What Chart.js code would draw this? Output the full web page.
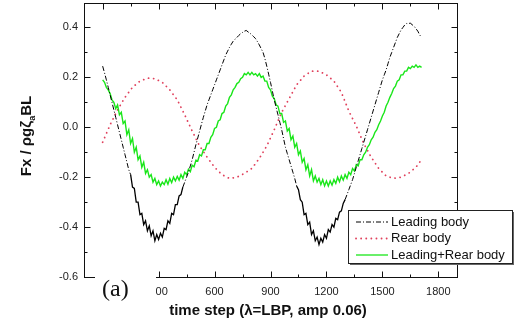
<!DOCTYPE html>
<html>
<head>
<meta charset="utf-8">
<script src="https://cdn.jsdelivr.net/npm/chart.js@4/dist/chart.umd.min.js"></script>
<style>
  body { margin: 0; background: #fff; }
  canvas { display: block; }
</style>
</head>
<body>
<canvas id="grafico" width="518" height="326"></canvas>
<script>
// time steps shared by the leading body and the sum
const steps = [
  0, 10, 20, 30, 40, 50, 60, 70, 80, 90, 100, 110, 120, 130, 140, 150, 160, 170, 180, 190,
  200, 210, 220, 230, 240, 250, 260, 270, 280, 290, 300, 310, 320, 330, 340, 350, 360, 370, 380, 390,
  400, 410, 420, 430, 440, 450, 460, 470, 480, 490, 500, 510, 520, 530, 540, 550, 560, 570, 580, 590,
  600, 610, 620, 630, 640, 650, 660, 670, 680, 690, 700, 710, 720, 730, 740, 750, 760, 770, 780, 790,
  800, 810, 820, 830, 840, 850, 860, 870, 880, 890, 900, 910, 920, 930, 940, 950, 960, 970, 980, 990,
  1000, 1010, 1020, 1030, 1040, 1050, 1060, 1070, 1080, 1090, 1100, 1110, 1120, 1130, 1140, 1150, 1160, 1170, 1180, 1190,
  1200, 1210, 1220, 1230, 1240, 1250, 1260, 1270, 1280, 1290, 1300, 1310, 1320, 1330, 1340, 1350, 1360, 1370, 1380, 1390,
  1400, 1410, 1420, 1430, 1440, 1450, 1460, 1470, 1480, 1490, 1500, 1510, 1520, 1530, 1540, 1550, 1560, 1570, 1580, 1590,
  1600, 1610, 1620, 1630, 1640, 1650, 1660, 1670, 1680, 1690, 1700, 1710];

const leadingBody = [
  0.245, 0.218, 0.19, 0.16, 0.13, 0.10, 0.07, 0.04, 0.01, -0.02, -0.05, -0.08, -0.11, -0.14, -0.17, -0.19, -0.24, -0.245, -0.30, -0.30,
  -0.35, -0.345, -0.39, -0.375, -0.415, -0.395, -0.435, -0.415, -0.455, -0.43, -0.45, -0.425, -0.44, -0.405, -0.41, -0.375, -0.385, -0.345, -0.35, -0.31,
  -0.31, -0.275, -0.27, -0.24, -0.22, -0.20, -0.18, -0.155, -0.13, -0.10, -0.07, -0.043, -0.015, 0.013, 0.04, 0.065, 0.09, 0.11, 0.13, 0.15,
  0.17, 0.19, 0.21, 0.23, 0.25, 0.27, 0.29, 0.305, 0.32, 0.333, 0.345, 0.353, 0.36, 0.368, 0.375, 0.38, 0.385, 0.388, 0.382, 0.377,
  0.37, 0.363, 0.355, 0.343, 0.33, 0.315, 0.30, 0.275, 0.245, 0.213, 0.18, 0.145, 0.11, 0.08, 0.05, 0.02, -0.01, -0.045, -0.08, -0.105,
  -0.13, -0.155, -0.18, -0.205, -0.235, -0.25, -0.29, -0.30, -0.35, -0.345, -0.39, -0.38, -0.43, -0.415, -0.455, -0.44, -0.47, -0.445, -0.46, -0.43,
  -0.445, -0.41, -0.42, -0.39, -0.40, -0.365, -0.37, -0.34, -0.335, -0.305, -0.29, -0.27, -0.25, -0.23, -0.21, -0.185, -0.16, -0.135, -0.11, -0.085,
  -0.06, -0.035, -0.01, 0.015, 0.04, 0.065, 0.09, 0.115, 0.14, 0.165, 0.19, 0.21, 0.23, 0.255, 0.28, 0.30, 0.32, 0.34, 0.36, 0.375,
  0.39, 0.40, 0.41, 0.416, 0.415, 0.418, 0.41, 0.405, 0.395, 0.385, 0.37, 0.36];

const leadingRear = [
  0.19, 0.18, 0.16, 0.15, 0.135, 0.11, 0.10, 0.075, 0.09, 0.05, 0.06, 0.015, 0.025, -0.03, -0.01, -0.065, -0.045, -0.10, -0.08, -0.13,
  -0.115, -0.16, -0.14, -0.185, -0.17, -0.20, -0.19, -0.22, -0.205, -0.23, -0.215, -0.235, -0.22, -0.23, -0.21, -0.228, -0.205, -0.222, -0.20, -0.215,
  -0.197, -0.212, -0.19, -0.205, -0.18, -0.19, -0.168, -0.178, -0.152, -0.158, -0.132, -0.135, -0.11, -0.115, -0.09, -0.09, -0.065, -0.065, -0.04, -0.03,
  -0.005, 0.0, 0.025, 0.03, 0.055, 0.06, 0.085, 0.095, 0.12, 0.13, 0.15, 0.16, 0.175, 0.18, 0.195, 0.20, 0.215, 0.21, 0.22, 0.21,
  0.22, 0.21, 0.215, 0.205, 0.215, 0.20, 0.205, 0.185, 0.185, 0.16, 0.15, 0.125, 0.115, 0.09, 0.085, 0.055, 0.055, 0.02, 0.025, -0.015,
  -0.005, -0.05, -0.035, -0.08, -0.065, -0.11, -0.095, -0.14, -0.125, -0.17, -0.15, -0.195, -0.17, -0.215, -0.195, -0.22, -0.205, -0.23, -0.21, -0.235,
  -0.215, -0.235, -0.215, -0.232, -0.21, -0.225, -0.20, -0.218, -0.195, -0.212, -0.19, -0.205, -0.18, -0.19, -0.165, -0.175, -0.15, -0.155, -0.13, -0.13,
  -0.11, -0.10, -0.08, -0.07, -0.05, -0.04, -0.02, -0.01, 0.01, 0.025, 0.045, 0.06, 0.085, 0.10, 0.12, 0.135, 0.155, 0.165, 0.185, 0.19,
  0.21, 0.21, 0.225, 0.225, 0.24, 0.235, 0.245, 0.24, 0.25, 0.24, 0.245, 0.24];

// rear body is smooth, coarser steps are enough
const rearSteps = [0, 40, 80, 120, 160, 200, 240, 280, 320, 360, 400, 440, 480, 520, 560, 600, 640, 680, 720, 760,
  800, 840, 880, 920, 960, 1000, 1040, 1080, 1120, 1160, 1200, 1240, 1280, 1320, 1360, 1400, 1440, 1480, 1520, 1560,
  1600, 1640, 1680, 1710];
const rearBody = [-0.06, 0.01, 0.07, 0.12, 0.16, 0.185, 0.197, 0.195, 0.18, 0.15, 0.11, 0.05, -0.015, -0.075, -0.12, -0.16, -0.19, -0.205, -0.20, -0.185,
  -0.165, -0.125, -0.075, -0.01, 0.06, 0.115, 0.17, 0.205, 0.225, 0.225, 0.21, 0.185, 0.14, 0.065, 0.005, -0.065, -0.12, -0.165, -0.195, -0.205,
  -0.20, -0.185, -0.16, -0.13];

const xTicks = [0, 300, 600, 900, 1200, 1500, 1800];
const xMinor = [150, 450, 750, 1050, 1350, 1650];
const yTicks = [-0.6, -0.4, -0.2, 0, 0.2, 0.4];
const yMinor = [-0.5, -0.3, -0.1, 0.1, 0.3];

const seriesNames = ['Leading body', 'Rear body', 'Leading+Rear body'];

// the leading body trace is so noisy in the troughs that the dashes close up
const troughs = [[150, 420], [1040, 1290]];

function pares(xs, ys) {
  return xs.map((x, i) => ({ x: x, y: ys[i] }));
}

function noVale(x) {
  return troughs.some(t => x >= t[0] && x <= t[1]);
}

// frame with inward ticks, legend box, titles and the (a) tag
const extras = {
  id: 'extras',
  afterDraw(chart) {
    const ctx = chart.ctx;
    const a = chart.chartArea;
    const sx = chart.scales.x;
    const sy = chart.scales.y;
    const L = Math.round(a.left) + 0.5, R = Math.round(a.right) + 0.5;
    const T = Math.round(a.top) + 0.5, B = Math.round(a.bottom) + 0.5;
    ctx.save();
    ctx.strokeStyle = '#111';
    ctx.lineWidth = 1;
    ctx.strokeRect(L, T, R - L, B - T);

    ctx.beginPath();
    xTicks.forEach(v => {
      const p = Math.round(sx.getPixelForValue(v)) + 0.5;
      ctx.moveTo(p, B); ctx.lineTo(p, B - 6);
      ctx.moveTo(p, T); ctx.lineTo(p, T + 6);
    });
    xMinor.forEach(v => {
      const p = Math.round(sx.getPixelForValue(v)) + 0.5;
      ctx.moveTo(p, B); ctx.lineTo(p, B - 3);
      ctx.moveTo(p, T); ctx.lineTo(p, T + 3);
    });
    yTicks.forEach(v => {
      const p = Math.round(sy.getPixelForValue(v)) + 0.5;
      ctx.moveTo(L, p); ctx.lineTo(L + 6, p);
      ctx.moveTo(R, p); ctx.lineTo(R - 6, p);
    });
    yMinor.forEach(v => {
      const p = Math.round(sy.getPixelForValue(v)) + 0.5;
      ctx.moveTo(L, p); ctx.lineTo(L + 3, p);
      ctx.moveTo(R, p); ctx.lineTo(R - 3, p);
    });
    ctx.stroke();

    // legend
    const lx = 348, ly = 210, lw = 164, lh = 53;
    ctx.fillStyle = '#666';
    ctx.fillRect(lx + 2, ly + 2, lw, lh);
    ctx.fillStyle = '#fff';
    ctx.fillRect(lx, ly, lw, lh);
    ctx.strokeStyle = '#222';
    ctx.strokeRect(lx + 0.5, ly + 0.5, lw, lh);

    const linhas = [
      { cor: '#000', dash: [5, 2, 1, 2], w: 1, cap: 'butt' },
      { cor: '#e0405c', dash: [0.1, 5], w: 1.8, cap: 'round' },
      { cor: '#19e619', dash: [], w: 1.3, cap: 'butt' }
    ];
    ctx.font = '13px "Liberation Sans", Arial, sans-serif';
    ctx.textBaseline = 'middle';
    ctx.textAlign = 'left';
    linhas.forEach((l, i) => {
      const y = ly + 12 + i * 16.5;
      ctx.beginPath();
      ctx.setLineDash(l.dash);
      ctx.lineCap = l.cap;
      ctx.lineWidth = l.w;
      ctx.strokeStyle = l.cor;
      ctx.moveTo(356, y);
      ctx.lineTo(388, y);
      ctx.stroke();
      ctx.setLineDash([]);
      ctx.lineCap = 'butt';
      ctx.fillStyle = '#111';
      ctx.fillText(seriesNames[i], 391, y);
    });

    // (a) tag sits over the axis corner
    ctx.fillStyle = '#fff';
    ctx.fillRect(95, 270, 61, 32);
    ctx.fillStyle = '#111';
    ctx.font = '24px "Liberation Serif", "Times New Roman", serif';
    ctx.textBaseline = 'alphabetic';
    ctx.fillText('(a)', 102, 296);

    // x title
    ctx.font = 'bold 15px "Liberation Sans", Arial, sans-serif';
    ctx.textAlign = 'center';
    ctx.fillText('time step (\u03bb=LBP, amp 0.06)', 268, 315);

    // y title with subscript
    ctx.translate(31, 136);
    ctx.rotate(-Math.PI / 2);
    const f1 = 'bold 15px "Liberation Sans", Arial, sans-serif';
    const f2 = 'bold 9px "Liberation Sans", Arial, sans-serif';
    const partes = [
      { t: 'Fx / \u03c1g\u03b6', f: f1, dy: 0 },
      { t: 'a', f: f2, dy: 4 },
      { t: 'BL', f: f1, dy: 0 }
    ];
    let total = 0;
    partes.forEach(p => { ctx.font = p.f; total += ctx.measureText(p.t).width; });
    let cx = -total / 2;
    ctx.textAlign = 'left';
    partes.forEach(p => {
      ctx.font = p.f;
      ctx.fillText(p.t, cx, p.dy);
      cx += ctx.measureText(p.t).width;
    });
    ctx.restore();
  }
};

const ctx1 = document.getElementById('grafico');

new Chart(ctx1, {
  type: 'scatter',
  data: {
    datasets: [
      {
        label: seriesNames[0],
        data: pares(steps, leadingBody),
        showLine: true,
        borderColor: '#000',
        borderWidth: 1,
        borderDash: [5, 2, 1, 2],
        segment: {
          borderDash: c => noVale(c.p0.parsed.x) ? [] : [5, 2, 1, 2],
          borderWidth: c => noVale(c.p0.parsed.x) ? 1.3 : 1
        },
        pointRadius: 0,
        order: 1
      },
      {
        label: seriesNames[1],
        data: pares(rearSteps, rearBody),
        showLine: true,
        borderColor: '#e0405c',
        borderWidth: 1.8,
        borderDash: [0.1, 5],
        borderCapStyle: 'round',
        pointRadius: 0,
        order: 3
      },
      {
        label: seriesNames[2],
        data: pares(steps, leadingRear),
        showLine: true,
        borderColor: '#19e619',
        borderWidth: 1.4,
        pointRadius: 0,
        order: 2
      }
    ]
  },
  options: {
    responsive: false,
    animation: false,
    layout: { padding: { top: 2.5, right: 61, left: 0, bottom: 0 } },
    plugins: {
      legend: { display: false },
      tooltip: { enabled: false }
    },
    scales: {
      x: {
        type: 'linear',
        min: -100,
        max: 1900,
        grid: { display: false, drawTicks: false },
        border: { display: false },
        afterBuildTicks: s => { s.ticks = xTicks.map(v => ({ value: v })); },
        afterFit: s => { s.height = 49; s.paddingLeft = 0; s.paddingRight = 0; },
        ticks: {
          padding: 8,
          maxRotation: 0,
          color: '#222',
          font: { family: '"Liberation Sans", Arial, sans-serif', size: 11 },
          callback: v => String(v)
        }
      },
      y: {
        min: -0.6,
        max: 0.5,
        grid: { display: false, drawTicks: false },
        border: { display: false },
        afterBuildTicks: s => { s.ticks = yTicks.map(v => ({ value: v })); },
        afterFit: s => { s.width = 84; s.paddingTop = 0; s.paddingBottom = 0; },
        ticks: {
          padding: 6,
          color: '#222',
          font: { family: '"Liberation Sans", Arial, sans-serif', size: 11 },
          callback: v => Number(v).toFixed(1)
        }
      }
    }
  },
  plugins: [extras]
});
</script>
</body>
</html>
